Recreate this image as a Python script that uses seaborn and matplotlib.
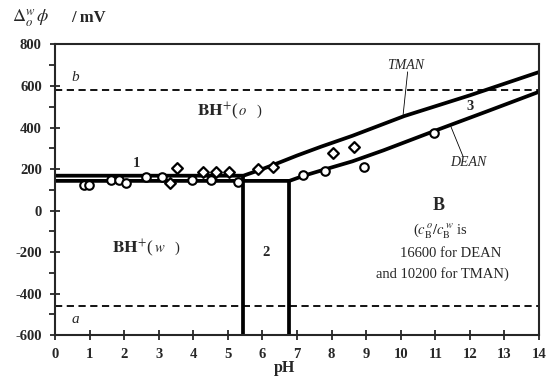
import matplotlib
matplotlib.use("Agg")
import matplotlib.pyplot as plt
import seaborn as sns
import pandas as pd
import numpy as np

# ---- data ----
tman_ph = [0, 5.45, 6.0, 6.5, 7.0, 7.7, 8.6, 10.1, 12.0, 14.0]
tman_mv = [168, 168, 200, 232, 265, 308, 360, 455, 555, 667]
dean_ph = [0, 6.78, 7.2, 7.7, 8.6, 9.5, 11.0, 12.5, 14.0]
dean_mv = [143, 143, 168, 193, 237, 290, 385, 478, 572]

circle_ph = [0.84, 0.99, 1.61, 1.86, 2.04, 2.63, 3.09, 3.96, 4.50, 5.28, 7.18, 7.80, 8.93, 10.96]
circle_mv = [122, 122, 147, 147, 131, 160, 162, 145, 145, 138, 172, 190, 211, 373]
diamond_ph = [3.34, 3.54, 4.28, 4.65, 5.02, 5.88, 6.32, 8.05, 8.65]
diamond_mv = [132, 205, 184, 184, 184, 200, 208, 277, 307]

boundary_ph = [5.45, 6.78]      # vertical boundaries (line 2)
boundary_top = [168, 143]
limit_lines = {"b": 580, "a": -460}

x_ticks = list(range(0, 15))
y_ticks = [800, 600, 400, 200, 0, -200, -400, -600]

# ---- style ----
sns.set_theme(style="ticks")
plt.rcParams["font.family"] = ["Liberation Serif", "DejaVu Serif"]
plt.rcParams["mathtext.fontset"] = "stix"
plt.rcParams["axes.unicode_minus"] = False

fig = plt.figure(figsize=(5.5, 3.8), dpi=100)
ax = fig.add_axes([0.1, 0.118, 0.88, 0.765])

curves = pd.DataFrame({
    "pH": tman_ph + dean_ph,
    "mV": tman_mv + dean_mv,
    "amine": ["TMAN"] * len(tman_ph) + ["DEAN"] * len(dean_ph),
})
sns.lineplot(data=curves, x="pH", y="mV", units="amine", estimator=None,
             sort=False, color="black", lw=2.7, ax=ax, legend=False)

for xp, top in zip(boundary_ph, boundary_top):
    sns.lineplot(x=[xp, xp], y=[-600, top], color="black", lw=2.7, ax=ax,
                 estimator=None, sort=False)

for key, val in limit_lines.items():
    ax.axhline(val, color="black", lw=1.3, ls=(0, (4, 2.5)))

sns.scatterplot(x=circle_ph, y=circle_mv, marker="o", s=38, facecolor="white",
                edgecolor="black", linewidth=1.5, ax=ax, zorder=5)
sns.scatterplot(x=diamond_ph, y=diamond_mv, marker="D", s=30, facecolor="white",
                edgecolor="black", linewidth=1.6, ax=ax, zorder=5)

ax.set_xlim(0, 14)
ax.set_ylim(-600, 800)
ax.set_xticks(x_ticks)
ax.set_yticks(y_ticks)
ax.set_yticks(np.arange(-500, 800, 200), minor=True)
ax.tick_params(axis="both", which="major", direction="inout", length=7,
               width=1.3, labelsize=10.5)
ax.tick_params(axis="x", which="major", pad=6)
ax.tick_params(axis="y", which="major", pad=6)
ax.tick_params(axis="y", which="minor", direction="out", length=4, width=1.3)
for lab in ax.get_xticklabels() + ax.get_yticklabels():
    lab.set_fontweight("bold")
for sp in ax.spines.values():
    sp.set_linewidth(1.5)
    sp.set_visible(True)
ax.set_xlabel("pH", fontsize=11.5, fontweight="bold")
ax.xaxis.set_label_coords(0.475, -0.085)
ax.set_ylabel("")

fig.text(0.022, 0.952, r"$\Delta_o^w\,\phi$", fontsize=13, ha="left", va="center")
fig.text(0.13, 0.952, "/ mV", fontsize=12, fontweight="bold", ha="left", va="center")

# annotations
ax.text(0.6, 640, "b", fontsize=11, style="italic", ha="center", va="center")
ax.text(0.6, -525, "a", fontsize=11, style="italic", ha="center", va="center")
ax.text(2.35, 228, "1", fontsize=10.5, fontweight="bold", ha="center", va="center")
ax.text(6.1, -200, "2", fontsize=10.5, fontweight="bold", ha="center", va="center")
ax.text(12.0, 500, "3", fontsize=10.5, fontweight="bold", ha="center", va="center")
ax.text(5.3, 478, r"$\mathbf{BH}^{+}$(", fontsize=12.5, ha="right", va="center")
ax.text(5.3, 478, r"$\mathit{o}$   )", fontsize=10.5, ha="left", va="center")
ax.text(2.85, -182, r"$\mathbf{BH}^{+}$(", fontsize=12.5, ha="right", va="center")
ax.text(2.85, -182, r"$\mathit{w}$   )", fontsize=10.5, ha="left", va="center")
ax.text(10.15, 700, "TMAN", fontsize=10, style="italic", ha="center", va="center")
ax.plot([10.2, 10.07], [668, 462], color="black", lw=0.6)
ax.text(11.95, 232, "DEAN", fontsize=10, style="italic", ha="center", va="center")
ax.plot([11.8, 11.45], [262, 405], color="black", lw=0.6)
ax.text(11.1, 25, "B", fontsize=13, fontweight="bold", ha="center", va="center")
ax.text(11.15, -100, r"($c_\mathrm{B}^{\,o}/c_\mathrm{B}^{\,w}$ is", fontsize=10.5,
        ha="center", va="center")
ax.text(11.45, -208, "16600 for DEAN", fontsize=10.5, ha="center", va="center")
ax.text(11.2, -305, "and 10200 for TMAN)", fontsize=10.5, ha="center", va="center")

fig.savefig("out.png", dpi=100)
